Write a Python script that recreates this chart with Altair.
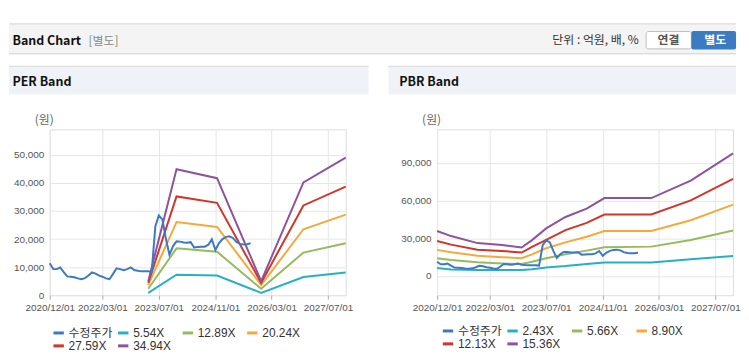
import altair as alt
import pandas as pd

FONT = "Liberation Sans, Noto Sans CJK KR, sans-serif"
KFONT = "Noto Sans CJK KR, sans-serif"

# ---------------- data ----------------
price_start = "2020-12-01"  # monthly values from here
price = [11400, 9300, 9300, 9900, 8200, 6700, 6600, 6400, 6000, 5700, 6100, 7000,
         8100, 7700, 7000, 6600, 6000, 5700, 7600, 9600, 9300, 8900, 9300, 9900,
         9000, 8700, 8500, 8500, 8500, 8300, 24500, 28400, 27000, 20000, 14400, 17500,
         19200, 19100, 18800, 18700, 18900, 17000, 17200, 17300, 17300, 18000, 19900, 16100,
         18500, 20000, 20800, 21000, 20400, 19000, 18300, 18100, 18200, 18500]
price_name = "수정주가"

per_labels = ["5.54X", "12.89X", "20.24X", "27.59X", "34.94X"]
per_dates = ["2023-04-01", "2023-12-01", "2024-11-15", "2025-12-01", "2026-12-01", "2027-12-01"]
per_554 = [850, 7300, 7000, 850, 6500, 8100]
per_1289 = [2300, 16700, 15500, 2300, 15200, 18500]
per_2024 = [3600, 26100, 24300, 3600, 23500, 28700]
per_2759 = [4400, 35200, 32900, 4400, 32000, 38700]
per_3494 = [5000, 44900, 41700, 5000, 40200, 49000]

pbr_labels = ["2.43X", "5.66X", "8.90X", "12.13X", "15.36X"]
pbr_dates = ["2020-12-01", "2021-04-01", "2021-11-15", "2022-06-15", "2022-12-01", "2023-03-01",
             "2023-07-01", "2023-12-15", "2024-06-15", "2024-11-15", "2025-12-25", "2026-12-01",
             "2027-12-01"]
pbr_243 = [6300, 5200, 4800, 4700, 4700, 5400, 6800, 7900, 9500, 10700, 10700, 13400, 16000]
pbr_566 = [14200, 12800, 10900, 10000, 9500, 11300, 14200, 17300, 20200, 22900, 23400, 28700, 36300]
pbr_890 = [20800, 19000, 16200, 15000, 14200, 17200, 22100, 26800, 31300, 35800, 35800, 44400, 56800]
pbr_1213 = [27900, 25000, 21000, 20000, 18700, 23200, 28700, 36500, 42300, 49000, 49000, 60200, 77400]
pbr_1536 = [35800, 31800, 26200, 24700, 22700, 28600, 37900, 47000, 53700, 62100, 62100, 76000, 97600]

per_ticks = [0, 10000, 20000, 30000, 40000, 50000]
pbr_ticks = [0, 30000, 60000, 90000]
x_ticks = [(2020, 12), (2022, 3), (2023, 7), (2024, 11), (2026, 3), (2027, 7)]

colors = ["#3c79c5", "#25b0c8", "#95bb5b", "#f3aa3b", "#d0362a", "#8f539d"]

# ---------------- frames ----------------
price_df = pd.DataFrame({
    "date": pd.date_range(price_start, periods=len(price), freq="MS"),
    "value": price,
    "series": price_name,
})


def band_frame(dates, labels, cols):
    rows = []
    for lab, vals in zip(labels, cols):
        for d, v in zip(dates, vals):
            rows.append({"date": pd.Timestamp(d), "value": v, "series": lab})
    return pd.DataFrame(rows)


per_df = band_frame(per_dates, per_labels, [per_554, per_1289, per_2024, per_2759, per_3494])
pbr_df = band_frame(pbr_dates, pbr_labels, [pbr_243, pbr_566, pbr_890, pbr_1213, pbr_1536])

ONE = alt.Data(values=[{}])
OY = 128  # page y of plot top
W, H = 298, 167
RIGHT_EDGE = 740  # keep content inside the viewport


def rect(ox, x1, x2, y1, y2, **kw):
    return alt.Chart(ONE).mark_rect(**kw).encode(
        x=alt.value(x1 - ox), x2=alt.value(x2 - ox),
        y=alt.value(y1 - OY), y2=alt.value(y2 - OY))


def hline(ox, x1, x2, y, color):
    return alt.Chart(ONE).mark_rule(color=color, strokeWidth=1).encode(
        x=alt.value(x1 - ox), x2=alt.value(x2 - ox), y=alt.value(y - OY))


def label(ox, x, y, s, **kw):
    return alt.Chart(ONE).mark_text(text=s, baseline="middle", **kw).encode(
        x=alt.value(x - ox), y=alt.value(y - OY))


def panel(ox, title, bands, labels, ydom, yticks, legend_xy, decor):
    dom = [price_name] + labels
    color = alt.Color("series:N", sort=dom,
                      scale=alt.Scale(domain=dom, range=colors),
                      legend=alt.Legend(title=None, orient="none",
                                        legendX=legend_xy[0], legendY=legend_xy[1],
                                        direction="horizontal", columns=4, gridAlign="all",
                                        symbolType="stroke", symbolSize=110, symbolStrokeWidth=3,
                                        labelFont=FONT, labelFontSize=12, labelColor="#333",
                                        labelOffset=3, columnPadding=-2, rowPadding=0, padding=0))
    x = alt.X("date:T",
              scale=alt.Scale(domain=[alt.DateTime(year=2020, month=12, date=1),
                                      alt.DateTime(year=2027, month=12, date=1)]),
              axis=alt.Axis(values=[alt.DateTime(year=a, month=b, date=1) for a, b in x_ticks],
                            format="%Y/%m/%d", title=None, domain=False,
                            labelOverlap=False, labelFlush=False,
                            tickColor="#aaa", tickSize=4, labelPadding=3,
                            labelFont=FONT, labelFontSize=10, labelColor="#555",
                            gridColor="#e6e6e6"))
    y = alt.Y("value:Q", scale=alt.Scale(domain=ydom, nice=False, zero=False),
              axis=alt.Axis(values=yticks, format=",d", domain=False, tickSize=0,
                            labelPadding=6, labelFont=FONT, labelFontSize=10,
                            labelColor="#555", gridColor="#e6e6e6",
                            title="(원)", titleAngle=0, titleX=-6, titleY=-10,
                            titleAlign="center", titleBaseline="middle",
                            titleFont=KFONT, titleFontSize=12, titleFontWeight="normal",
                            titleColor="#666"))
    bands_layer = alt.Chart(bands).mark_line(strokeWidth=2).encode(x=x, y=y, color=color)
    price_layer = alt.Chart(price_df).mark_line(strokeWidth=2).encode(x=x, y=y, color=color)
    return alt.layer(*decor, bands_layer, price_layer).properties(width=W, height=H)


LX = 49
RX = LX + W + 92

left_decor = [
    rect(LX, 8, 400, 8, 21, fill="white"),
    hline(LX, 8, RIGHT_EDGE, 22, "#c4c4c4"),
    rect(LX, 8, RIGHT_EDGE, 22.5, 51, fill="#f4f4f4"),
    hline(LX, 8, RIGHT_EDGE, 51.5, "#d8d8d8"),
    hline(LX, 8, RIGHT_EDGE, 52.5, "#ececec"),
    label(LX, 11.5, 38.7, "Band Chart", font=KFONT, fontSize=12.5, fontWeight="bold", color="#111", align="left"),
    label(LX, 88, 38.7, "[별도]", font=KFONT, fontSize=12, color="#888", align="left"),
    label(LX, 642, 38.5, "단위 : 억원, 배, %", font=KFONT, fontSize=12, color="#333", align="right"),
    rect(LX, 649.5, 695, 29.5, 47, fill="white", stroke="#bcbcbc", strokeWidth=1, cornerRadius=2),
    label(LX, 672, 38.5, "연결", font=KFONT, fontSize=12, fontWeight="bold", color="#555", align="center"),
    rect(LX, 695, RIGHT_EDGE, 29, 47.5, fill="#3a7bc2", cornerRadius=2),
    label(LX, 719, 38.5, "별도", font=KFONT, fontSize=12, fontWeight="bold", color="white", align="center"),
    rect(LX, 8, 370, 64.5, 93, fill="#eff3f8"),
    hline(LX, 8, 370, 64.5, "#d8d8d8"),
    label(LX, 11.5, 80.3, "PER Band", font=KFONT, fontSize=12.5, fontWeight="bold", color="#111", align="left"),
]

right_decor = [
    rect(RX, 390, RIGHT_EDGE, 64.5, 93, fill="#eff3f8"),
    hline(RX, 390, RIGHT_EDGE, 64.5, "#d8d8d8"),
    label(RX, 401, 80.3, "PBR Band", font=KFONT, fontSize=12.5, fontWeight="bold", color="#111", align="left"),
]

left = panel(LX, "PER Band", per_df, per_labels, [0, 59100], per_ticks, (2, 198), left_decor)
right = panel(RX, "PBR Band", pbr_df, pbr_labels, [-15300, 116800], pbr_ticks, (4, 196), right_decor)

chart = alt.hconcat(left, right, spacing=92, bounds="flush").resolve_scale(
    color="independent", x="independent", y="independent"
).properties(padding=0).configure_view(stroke="#aaa", strokeWidth=1).configure(font=FONT)

chart.save("out.html", embed_options={"renderer": "svg", "actions": False})
